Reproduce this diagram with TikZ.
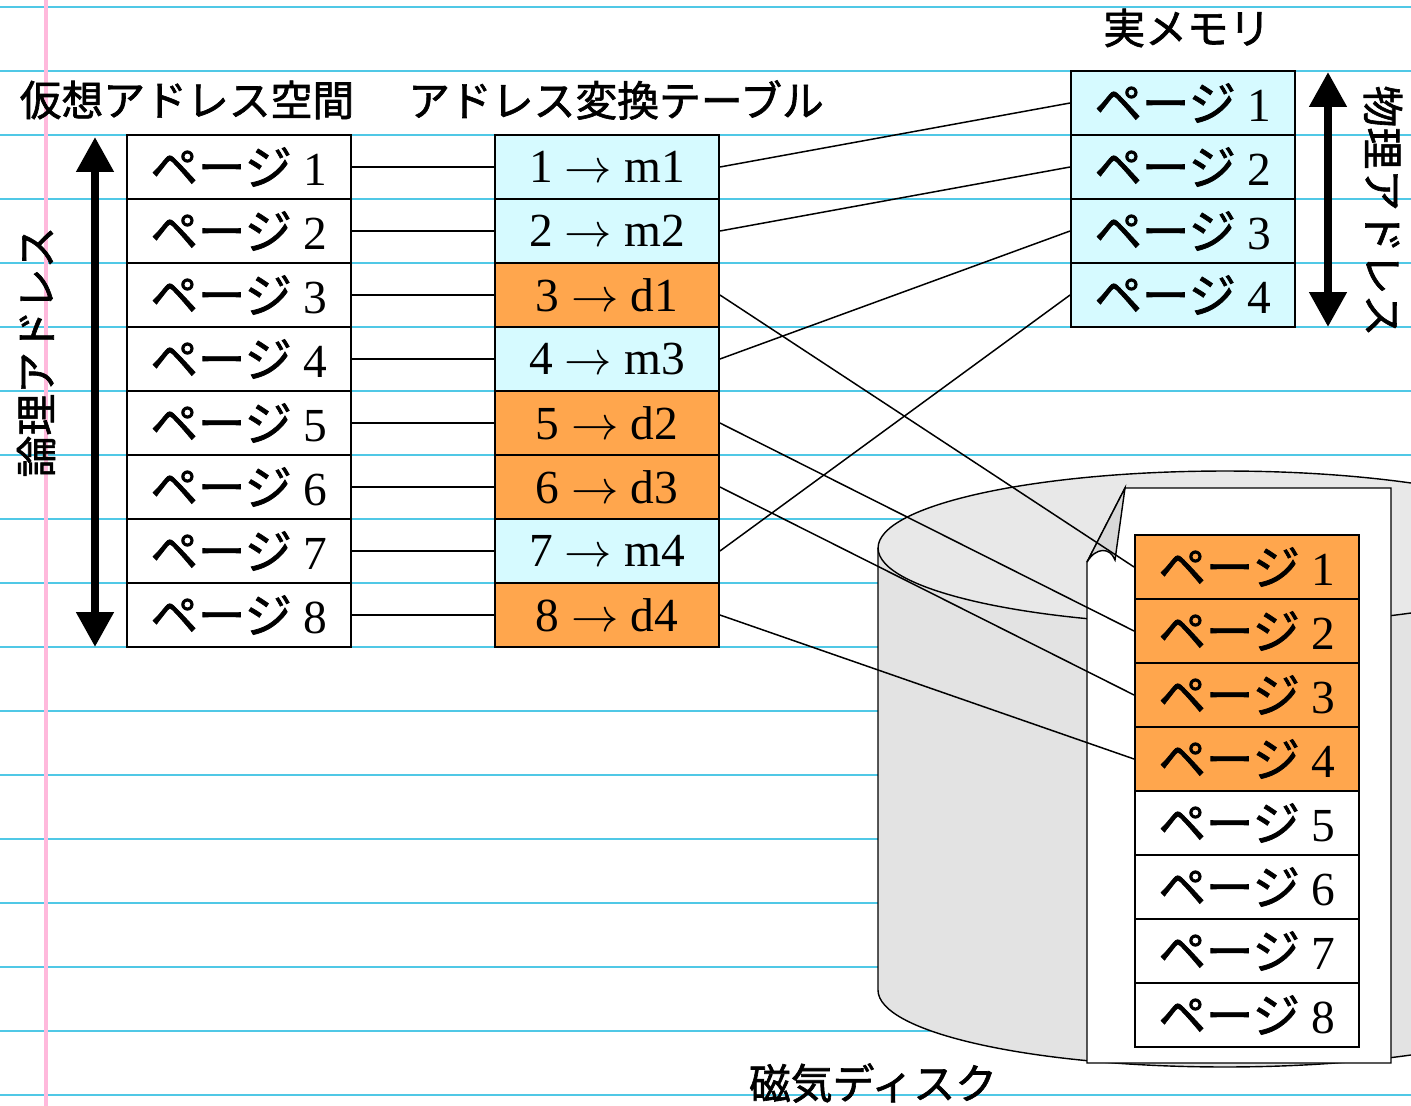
\RequirePackage{fix-cm}
\documentclass[tikz,border=0pt]{standalone}
\usepackage{fontspec}
\setmainfont{Liberation Serif}
\newfontfamily\jpfont[FakeBold=1.5]{Noto Sans CJK JP}
\usetikzlibrary{arrows.meta}

\definecolor{ruleblue}{RGB}{80,200,230}
\definecolor{marginpink}{RGB}{255,185,220}
\definecolor{memcyan}{RGB}{214,250,255}
\definecolor{diskorange}{RGB}{255,166,77}
\definecolor{diskbody}{RGB}{227,227,227}
\definecolor{disktop}{RGB}{232,232,232}
\definecolor{flapgray}{RGB}{216,216,216}

\tikzset{
  ruleline/.style={draw=ruleblue, line width=0.65pt},
  marginline/.style={draw=marginpink, line width=2.3pt},
  cell/.style={draw=black, line width=1.1pt, minimum width=4.48cm,
    minimum height=1.28cm, inner sep=0pt, font=\fontsize{27}{30}\selectfont},
  link/.style={draw=black, line width=0.85pt},
  title/.style={font=\jpfont\fontsize{23.8}{28}\selectfont, inner sep=0pt},
  bigarrow/.style={line width=4.5pt,
    {Triangle[length=0.7cm,width=0.72cm]}-{Triangle[length=0.7cm,width=0.72cm]}},
  outline/.style={draw=black, line width=0.8pt},
}

\begin{document}
\begin{tikzpicture}[x=0.02cm, y=-0.02cm]
  \useasboundingbox (0,0) rectangle (1411,1106);
  \clip (0,0) rectangle (1411,1106);
  \fill[white] (0,0) rectangle (1411,1106);

  % ruled notebook paper
  \foreach \k in {0,...,17}
    \draw[ruleline] (0,{7+64*\k}) -- (1411,{7+64*\k});
  \draw[marginline] (46,0) -- (46,1106);

  % magnetic disk (cylinder)
  \fill[diskbody] (878,548) -- (878,990)
    arc[start angle=180, end angle=360, x radius=6.94cm, y radius=1.54cm]
    -- (1572,548) -- cycle;
  \draw[outline] (878,548) -- (878,990)
    arc[start angle=180, end angle=360, x radius=6.94cm, y radius=1.54cm];
  \filldraw[outline, fill=disktop] (1225,548) ellipse [x radius=6.94cm, y radius=1.54cm];

  % sheet with a turned-up corner
  \filldraw[outline, fill=white] (1087,1063) -- (1087,562) -- (1125,488)
    -- (1391,488) -- (1391,1063) -- cycle;
  \filldraw[outline, fill=flapgray] (1125,488) -- (1087,562)
    .. controls (1096,547) and (1110,547) .. (1115,560) -- cycle;

  % virtual address space
  \foreach \i in {1,...,8}
    \node[cell, fill=white] (v\i) at (239,{167+64*(\i-1)}) {{\jpfont ページ} \i};

  % address translation table
  \foreach \i/\dst/\fc in {1/m1/memcyan, 2/m2/memcyan, 3/d1/diskorange,
      4/m3/memcyan, 5/d2/diskorange, 6/d3/diskorange, 7/m4/memcyan, 8/d4/diskorange}
    \node[cell, fill=\fc] (t\i) at (607,{167+64*(\i-1)}) {\i\ $\rightarrow$ \dst};

  % physical memory
  \foreach \i in {1,...,4}
    \node[cell, fill=memcyan] (m\i) at (1183,{103+64*(\i-1)}) {{\jpfont ページ} \i};

  % pages on disk
  \foreach \i/\fc in {1/diskorange, 2/diskorange, 3/diskorange, 4/diskorange,
      5/white, 6/white, 7/white, 8/white}
    \node[cell, fill=\fc] (d\i) at (1247,{567+64*(\i-1)}) {{\jpfont ページ} \i};

  % connectors
  \foreach \i in {1,...,8}
    \draw[link] (v\i.east) -- (t\i.west);
  \draw[link] (t1.east) -- (m1.west);
  \draw[link] (t2.east) -- (m2.west);
  \draw[link] (t3.east) -- (d1.west);
  \draw[link] (t4.east) -- (m3.west);
  \draw[link] (t5.east) -- (d2.west);
  \draw[link] (t6.east) -- (d3.west);
  \draw[link] (t7.east) -- (m4.west);
  \draw[link] (t8.east) -- (d4.west);

  % address range arrows
  \coordinate (ltop) at (95,137);
  \coordinate (lbot) at (95,647);
  \coordinate (rtop) at (1328,72);
  \coordinate (rbot) at (1328,327);
  \draw[bigarrow] (ltop) -- (lbot);
  \draw[bigarrow] (rtop) -- (rbot);

  % labels
  \node[title] (tv) at (187,100) {仮想アドレス空間};
  \node[title] (tt) at (616,100) {アドレス変換テーブル};
  \node[title] (tm) at (1187,28) {実メモリ};
  \node[title] (td) at (873,1083) {磁気ディスク};
  \node[title, rotate=90] (tl) at (36,352) {論理アドレス};
  \node[title, rotate=-90] (tp) at (1383,211) {物理アドレス};
\end{tikzpicture}
\end{document}
